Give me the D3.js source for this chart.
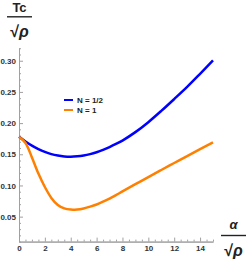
<!DOCTYPE html>
<html><head><meta charset="utf-8">
<script src="https://cdn.jsdelivr.net/npm/d3@7"></script>
<style>body{margin:0;background:#fff}svg{display:block}</style>
</head><body>
<svg id="c" width="247" height="264"></svg>
<script>
const alphaVals = [0,0.5,1,1.5,2,2.5,3,3.5,4,4.5,5,5.5,6,6.5,7,7.5,8,9,10,11,12,13,14,15];
const blueVals  = [0.178,0.1705,0.1638,0.1583,0.1538,0.1503,0.1480,0.1466,0.1462,0.1467,0.1480,0.1502,0.1532,0.1570,0.1615,0.1665,0.1720,0.1855,0.2015,0.2195,0.2385,0.2580,0.2790,0.3005];
const orangeVals= [0.178,0.168,0.145,0.119,0.0975,0.0800,0.0685,0.0632,0.0613,0.0615,0.0632,0.0660,0.0695,0.0740,0.0790,0.0845,0.0905,0.1020,0.1135,0.1248,0.1360,0.1472,0.1582,0.1690];
const seriesNames = ["N = 1/2","N = 1"];
const seriesColors = ["#0000ff","#ff8000"];
const xTicks = [0,2,4,6,8,10,12,14];
const yTicks = [0.05,0.10,0.15,0.20,0.25,0.30];

const svg = d3.select("#c");
const x = d3.scaleLinear().domain([0,15]).range([19,213]);
const y = d3.scaleLinear().domain([0.01,0.3204]).range([241.6,48]);
const axisColor = "#a0a0a0";
const font = "'Liberation Sans', Arial, sans-serif";

// minor ticks
const xMinor = d3.range(0,15.01,0.5).filter(v=>!xTicks.includes(v));
const yMinor = d3.range(0.01,0.3201,0.01).map(v=>+v.toFixed(2)).filter(v=>!yTicks.some(t=>Math.abs(t-v)<1e-6));
const gx = svg.append("g").attr("transform",`translate(0,${y(0.01)})`);
gx.call(d3.axisBottom(x).tickValues(xMinor).tickSizeInner(-2).tickSizeOuter(0).tickFormat(""));
gx.call(g=>g.selectAll("*").attr("stroke",axisColor));
const gx2 = svg.append("g").attr("transform",`translate(0,${y(0.01)})`);
gx2.call(d3.axisBottom(x).tickValues(xTicks).tickSizeInner(-4).tickSizeOuter(0).tickPadding(4).tickFormat(d3.format("d")));
gx2.select(".domain").attr("stroke",axisColor);
gx2.selectAll(".tick line").attr("stroke",axisColor);
gx2.selectAll(".tick text").attr("font-family",font).attr("font-size",8).attr("font-weight","bold").attr("fill","#333");

const gy = svg.append("g").attr("transform",`translate(${x(0)},0)`);
gy.call(d3.axisLeft(y).tickValues(yMinor).tickSizeInner(-2).tickSizeOuter(0).tickFormat(""));
gy.call(g=>g.selectAll("*").attr("stroke",axisColor));
const gy2 = svg.append("g").attr("transform",`translate(${x(0)},0)`);
gy2.call(d3.axisLeft(y).tickValues(yTicks).tickSizeInner(-4).tickSizeOuter(0).tickPadding(3).tickFormat(d3.format(".2f")));
gy2.select(".domain").attr("stroke",axisColor);
gy2.selectAll(".tick line").attr("stroke",axisColor);
gy2.selectAll(".tick text").attr("font-family",font).attr("font-size",8).attr("font-weight","bold").attr("fill","#333");

// curves
const line = d3.line().x(d=>x(d[0])).y(d=>y(d[1])).curve(d3.curveCatmullRom.alpha(0.5));
[blueVals, orangeVals].forEach((vals,i)=>{
  svg.append("path").datum(alphaVals.map((a,j)=>[a,vals[j]]))
    .attr("d",line).attr("fill","none").attr("stroke",seriesColors[i])
    .attr("stroke-width",2.5).attr("stroke-linejoin","round");
});

// legend
seriesNames.forEach((n,i)=>{
  const yy = 100 + i*10;
  svg.append("line").attr("x1",64).attr("x2",73).attr("y1",yy).attr("y2",yy)
    .attr("stroke",seriesColors[i]).attr("stroke-width",2);
  svg.append("text").attr("x",77).attr("y",yy+3).text(n)
    .attr("font-family",font).attr("font-size",8).attr("font-weight","bold").attr("fill","#222");
});

// axis labels
function fracLabel(cx, numBase, num, numItalic, barGap){
  svg.append("text").attr("x",cx).attr("y",numBase).attr("text-anchor","middle")
    .attr("font-family",font).attr("font-size",13).attr("font-weight","bold").attr("fill","#222")
    .attr("font-style",numItalic?"italic":"normal").text(num);
  svg.append("line").attr("x1",cx-12.5).attr("x2",cx+12.5).attr("y1",numBase+barGap).attr("y2",numBase+barGap)
    .attr("stroke","#222").attr("stroke-width",1.4);
  const d = svg.append("text").attr("x",cx).attr("y",numBase+barGap+20.5).attr("text-anchor","middle")
    .attr("font-family",font).attr("font-size",16).attr("font-weight","bold").attr("fill","#222");
  d.append("tspan").text("√");
  d.append("tspan").attr("font-style","italic").text("ρ");
}
fracLabel(19.5, 12, "Tc", false, 4.8);
fracLabel(233.5, 229, "α", true, 6.5);
</script>
</body></html>
